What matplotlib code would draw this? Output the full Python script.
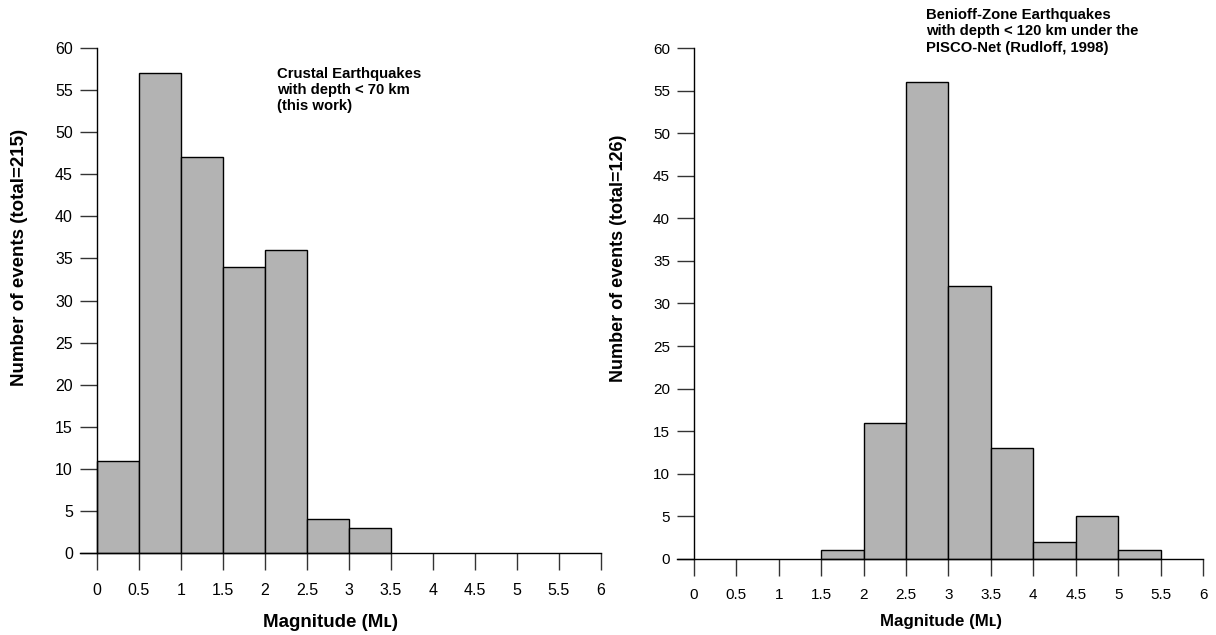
import matplotlib
matplotlib.use("Agg")
import matplotlib.pyplot as plt
import numpy as np

plt.rcParams['font.family'] = ['Liberation Sans', 'DejaVu Sans']

# Data
bin_edges = [0, 0.5, 1, 1.5, 2, 2.5, 3, 3.5, 4, 4.5, 5, 5.5, 6]
crustal_counts = [11, 57, 47, 34, 36, 4, 3, 0, 0, 0, 0, 0]
benioff_counts = [0, 0, 0, 1, 16, 56, 32, 13, 2, 5, 1, 0]
x_ticks = [0, 0.5, 1, 1.5, 2, 2.5, 3, 3.5, 4, 4.5, 5, 5.5, 6]
x_ticklabels = ['0', '0.5', '1', '1.5', '2', '2.5', '3', '3.5', '4', '4.5', '5', '5.5', '6']
y_ticks = list(range(0, 61, 5))
left_ylabel = 'Number of events (total=215)'
right_ylabel = 'Number of events (total=126)'
xlabel = 'Magnitude (Mʟ)'
left_note = 'Crustal Earthquakes\nwith depth < 70 km\n(this work)'
right_note = 'Benioff-Zone Earthquakes\nwith depth < 120 km under the\nPISCO-Net (Rudloff, 1998)'

W, H = 1216, 635
fig = plt.figure(figsize=(W / 100, H / 100), dpi=100)

def px_axes(x0, x1, ytop, ybot):
    return fig.add_axes([x0 / W, (H - ybot) / H, (x1 - x0) / W, (ybot - ytop) / H])

ax1 = px_axes(80, 601, 48, 570)
ax2 = px_axes(677, 1203, 48, 576)

def style(ax, counts, ylabel, note, note_xy, fs_ylab, fs_xlab, fs_tick, xlabpad):
    left = np.array(bin_edges[:-1])
    widths = np.diff(bin_edges)
    hs = np.array(counts)
    mask = hs > 0
    ax.bar(left[mask], hs[mask], width=widths[mask], align='edge',
           color='#b3b3b3', edgecolor='black', linewidth=1.0, zorder=2)
    ax.set_xlim(-0.2, 6.0)
    ax.set_ylim(-2.0, 60.0)
    for s in ['top', 'right']:
        ax.spines[s].set_visible(False)
    ax.spines['left'].set_position(('data', 0))
    ax.spines['bottom'].set_position(('data', 0))
    ax.spines['left'].set_bounds(0, 60)
    ax.spines['bottom'].set_bounds(-0.2, 6)
    for s in ['left', 'bottom']:
        ax.spines[s].set_linewidth(1.0)
        ax.spines[s].set_zorder(3)
    ax.set_xticks(x_ticks)
    ax.set_xticklabels(x_ticklabels)
    ax.set_yticks(y_ticks)
    ax.tick_params(axis='both', direction='out', length=12.2, width=1.0,
                   labelsize=fs_tick, color='#333333')
    ax.tick_params(axis='x', pad=9)
    ax.tick_params(axis='y', pad=5)
    ax.set_ylabel(ylabel, fontsize=fs_ylab, fontweight='bold', labelpad=0)
    ax.set_xlabel(xlabel, fontsize=fs_xlab, fontweight='bold', labelpad=xlabpad)
    ax.text(note_xy[0], note_xy[1], note, transform=ax.transData,
            fontsize=10.7, fontweight='bold', va='top', ha='left', linespacing=1.22)
    ax.patch.set_visible(False)

style(ax1, crustal_counts, left_ylabel, left_note, (2.15, 57.8), 13.5, 13.5, 11.5, 11.5)
style(ax2, benioff_counts, right_ylabel, right_note, (2.74, 64.7), 13.0, 12.2, 11, 8.5)

ax1.yaxis.set_label_coords(-0.10, 0.598)
ax2.yaxis.set_label_coords(-0.095, 0.602)
ax1.xaxis.label.set_x(0.48)
ax2.xaxis.label.set_x(0.502)

fig.savefig('out.png', dpi=100)
